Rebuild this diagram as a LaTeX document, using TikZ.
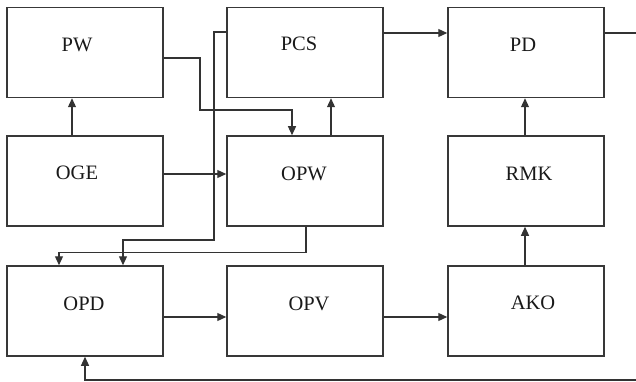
\documentclass[tikz,border=0pt]{standalone}
\usepackage{fontspec}
\setmainfont{Liberation Serif}
\usetikzlibrary{arrows.meta}
\begin{document}
\begin{tikzpicture}[x=1pt,y=-1pt,
  box/.style={draw=black!78,line width=1.5pt,minimum width=156pt,minimum height=90pt,inner sep=0pt},
  lbl/.style={font=\fontsize{20.5}{24}\selectfont,text=black!90,inner sep=0pt},
  conn/.style={draw=black!80,line width=1.2pt},
  arr/.style={conn,-{Triangle[length=9pt,width=8pt]}}]
\useasboundingbox (0,0) rectangle (636,382);
% boxes
\node[box] (PW)  at (85,52.5) {};
\node[box] (PCS) at (305,52.5) {};
\node[box] (PD)  at (526,52.5) {};
\node[box] (OGE) at (85,181) {};
\node[box] (OPW) at (305,181) {};
\node[box] (RMK) at (526,181) {};
\node[box] (OPD) at (85,311) {};
\node[box] (OPV) at (305,311) {};
\node[box] (AKO) at (526,311) {};
% labels
\node[lbl] (tPW)  at (77,45) {PW};
\node[lbl] (tPCS) at (299,44) {PCS};
\node[lbl] (tPD)  at (523,45) {PD};
\node[lbl] (tOGE) at (77,173) {OGE};
\node[lbl] (tOPW) at (304,174) {OPW};
\node[lbl] (tRMK) at (529,174) {RMK};
\node[lbl] (tOPD) at (84,304) {OPD};
\node[lbl] (tOPV) at (309,304) {OPV};
\node[lbl] (tAKO) at (533,303) {AKO};
% free-end coordinates
\coordinate (pwturn) at (200,110);
\coordinate (pcsturn) at (214,240);
\coordinate (outR) at (636,33);
\coordinate (backR) at (636,380);
% connectors
\draw[arr] ([xshift=-13pt]OGE.north) -- ([xshift=-13pt]PW.south);
\draw[arr] ([yshift=-5.5pt]PW.east) -| (pwturn) -| ([xshift=-13pt]OPW.north);
\draw[arr] ([yshift=7pt]OGE.east) -- ([yshift=7pt]OPW.west);
\draw[arr] ([xshift=26pt]OPW.north) -- ([xshift=26pt]PCS.south);
\draw[arr] ([yshift=20.5pt]PCS.west) -| (pcsturn) -| ([xshift=38pt]OPD.north);
\draw[arr] ([xshift=1pt]OPW.south) -- ++(0,26) -| ([xshift=-26pt]OPD.north);
\draw[arr] ([yshift=19.5pt]PCS.east) -- ([yshift=19.5pt]PD.west);
\draw[conn] ([yshift=19.5pt]PD.east) -- (outR);
\draw[arr] ([xshift=-1pt]RMK.north) -- ([xshift=-1pt]PD.south);
\draw[arr] ([xshift=-1pt]AKO.north) -- ([xshift=-1pt]RMK.south);
\draw[arr] ([yshift=-6pt]OPD.east) -- ([yshift=-6pt]OPV.west);
\draw[arr] ([yshift=-6pt]OPV.east) -- ([yshift=-6pt]AKO.west);
\draw[arr] (backR) -| (OPD.south);
\end{tikzpicture}
\end{document}
